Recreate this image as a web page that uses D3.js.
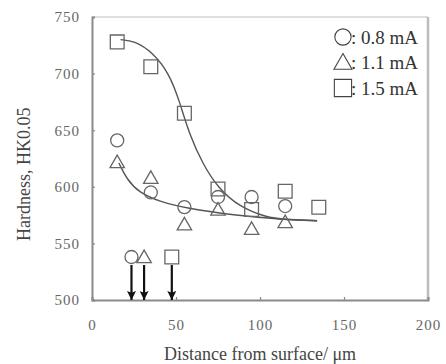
<!DOCTYPE html>
<html>
<head>
<meta charset="utf-8">
<script src="https://cdn.jsdelivr.net/npm/d3@7"></script>
<style>
  body { margin: 0; background: #fff; }
  text { font-family: "Liberation Serif", "DejaVu Serif", serif; }
</style>
</head>
<body>
<div id="chart"></div>
<script>
// Data
const xTicks = [0, 50, 100, 150, 200];
const yTicks = [500, 550, 600, 650, 700, 750];

const circles   = [[15, 641], [35, 595], [55, 582], [75, 591], [95, 591], [115, 583]];
const triangles = [[15, 622], [35, 608], [55, 567], [75, 580], [95, 563], [115, 569]];
const squares   = [[15, 728], [35, 706], [55, 665], [75, 598], [95, 580], [115, 596], [135, 582]];

// fitted curves
const fitLow  = [[16, 621], [21, 606], [28, 595], [40, 587], [56, 581], [84, 575], [114, 571], [134, 570]];
const fitHigh = [[17, 730], [25, 729], [36, 719], [46, 700], [52, 676], [58, 646], [66, 620], [75, 599], [88, 582], [104, 573], [114, 571], [134, 570]];

// case depth markers with arrows
const depthX = [23.5, 31, 47.5];
const depthShapes = ["circle", "triangle", "square"];
const depthY = 538;

const legendLabels = ["0.8 mA", "1.1 mA", "1.5 mA"];

function renderChart() {
  const W = 446, H = 364;
  const margin = { top: 17, right: 18, bottom: 64, left: 92 };
  const width = W - margin.left - margin.right,
        height = H - margin.top - margin.bottom;

  const svg = d3.select("#chart").append("svg")
    .attr("width", W).attr("height", H);
  const g = svg.append("g").attr("transform", `translate(${margin.left}, ${margin.top})`);

  const x = d3.scaleLinear().domain([0, 200]).range([0, width]);
  const y = d3.scaleLinear().domain([500, 750]).range([height, 0]);

  // frame: top and right lighter
  g.append("line").attr("x1", 0).attr("x2", width).attr("y1", 0).attr("y2", 0)
    .attr("stroke", "#d4d4d4").attr("stroke-width", 1.5);
  g.append("line").attr("x1", width).attr("x2", width).attr("y1", 0).attr("y2", height)
    .attr("stroke", "#bdbdbd").attr("stroke-width", 2.5);

  // axes
  const xAxis = g.append("g").attr("transform", `translate(0, ${height})`)
    .call(d3.axisBottom(x).tickValues(xTicks).tickSize(-3).tickPadding(19));
  const yAxis = g.append("g")
    .call(d3.axisLeft(y).tickValues(yTicks).tickSize(-3).tickPadding(12));
  [xAxis, yAxis].forEach(a => {
    a.attr("font-family", "'Liberation Serif', serif");
    a.select(".domain").attr("stroke", "#8a8a8a").attr("stroke-width", 2);
    a.selectAll(".tick line").attr("stroke", "#8a8a8a").attr("stroke-width", 1.2);
    a.selectAll(".tick text").attr("fill", "#666").style("font-size", "15px")
      .style("letter-spacing", "1px");
  });

  // curves
  const line = d3.line().x(d => x(d[0])).y(d => y(d[1])).curve(d3.curveBasis);
  [fitLow, fitHigh].forEach(pts => {
    g.append("path").datum(pts).attr("d", line)
      .attr("fill", "none").attr("stroke", "#555").attr("stroke-width", 1.4);
  });

  const sym = {
    circle: s => d3.symbol().type(d3.symbolCircle).size(133 * s * s)(),
    triangle: s => d3.symbol().type(d3.symbolTriangle).size(90 * s * s)(),
    square: s => d3.symbol().type(d3.symbolSquare).size(190 * s * s)()
  };
  const triShift = 1.5;

  function drawMarkers(data, type) {
    g.selectAll(null).data(data).join("path")
      .attr("d", sym[type](1))
      .attr("transform", d => `translate(${x(d[0])}, ${y(d[1]) + (type === "triangle" ? triShift : 0)})`)
      .attr("fill", "none").attr("stroke", "#666").attr("stroke-width", 1.3);
  }
  drawMarkers(circles, "circle");
  drawMarkers(triangles, "triangle");
  drawMarkers(squares, "square");

  // depth markers + arrows
  svg.append("defs").append("marker")
    .attr("id", "ah").attr("markerUnits", "userSpaceOnUse")
    .attr("viewBox", "0 0 10 10").attr("refX", 10).attr("refY", 5)
    .attr("markerWidth", 10).attr("markerHeight", 9).attr("orient", "auto")
    .append("path").attr("d", "M0,0 L10,5 L0,10 L2,5 z").attr("fill", "#111");

  depthX.forEach((dx, i) => {
    const t = depthShapes[i];
    g.append("path").attr("d", sym[t](1))
      .attr("transform", `translate(${x(dx)}, ${y(depthY) + (t === "triangle" ? triShift : 0)})`)
      .attr("fill", "none").attr("stroke", "#666").attr("stroke-width", 1.3);
    g.append("line")
      .attr("x1", x(dx)).attr("x2", x(dx))
      .attr("y1", y(depthY) + 8).attr("y2", y(500))
      .attr("stroke", "#111").attr("stroke-width", 2.2).attr("marker-end", "url(#ah)");
  });

  // legend
  const lg = g.append("g").attr("transform", `translate(${width - 10}, 0)`);
  legendLabels.forEach((lab, i) => {
    const cy = 20 + i * 25.5;
    const txt = lg.append("text").attr("x", 0).attr("y", cy + 6.5)
      .attr("text-anchor", "end").attr("fill", "#333")
      .style("font-size", "19px").text(": " + lab);
    const tw = txt.node().getComputedTextLength();
    lg.append("path").attr("d", sym[depthShapes[i]](1.25))
      .attr("transform", `translate(${-tw - 8}, ${cy + (i === 1 ? 1.5 : 0)})`)
      .attr("fill", "none").attr("stroke", "#444").attr("stroke-width", 1.1);
  });

  // axis titles
  svg.append("text")
    .attr("x", margin.left + x(100)).attr("y", 360)
    .attr("text-anchor", "middle").attr("fill", "#444")
    .style("font-size", "18px").text("Distance from surface/ μm");
  svg.append("text")
    .attr("transform", `translate(30, ${margin.top + y(611)}) rotate(-90)`)
    .attr("text-anchor", "middle").attr("fill", "#444")
    .style("font-size", "18px").text("Hardness, HK0.05");
}

renderChart();
</script>
</body>
</html>
